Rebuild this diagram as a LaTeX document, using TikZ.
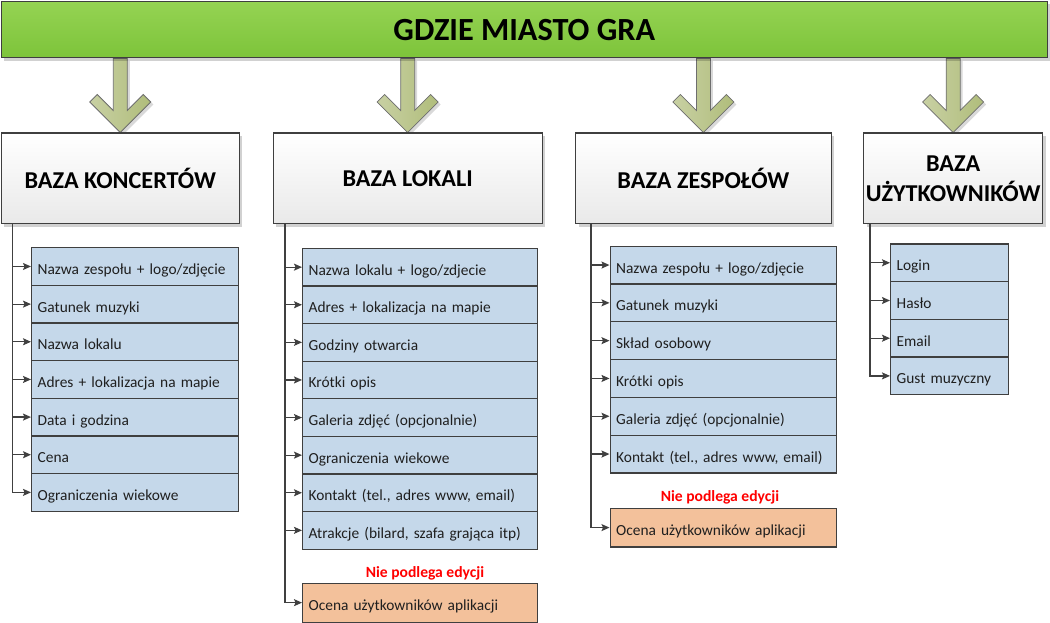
\documentclass[tikz,border=0pt]{standalone}
\usepackage{fontspec}
\setmainfont{Carlito}
\usetikzlibrary{calc,shadows,arrows.meta}
\pgfdeclarelayer{background}
\pgfsetlayers{background,main}
\definecolor{titlegreenT}{HTML}{95D353}
\definecolor{titlegreenB}{HTML}{7DC43A}
\definecolor{edge}{HTML}{3F3F3F}
\definecolor{itemblue}{HTML}{C5D8EA}
\definecolor{itemorange}{HTML}{F3C19B}
\definecolor{arrL}{HTML}{C8D0A3}
\definecolor{arrR}{HTML}{B0BD7B}
\definecolor{arredge}{HTML}{6E6E6E}
\definecolor{hdrB}{HTML}{E9E9E9}
\definecolor{conncol}{HTML}{404040}
\definecolor{redtxt}{HTML}{FF0000}
\tikzset{
  softshadow/.style={drop shadow={shadow xshift=3pt, shadow yshift=-3pt, fill=black, opacity=0.18}},
  titlebox/.style={draw=edge, line width=1.3pt, top color=titlegreenT, bottom color=titlegreenB,
    anchor=north west, minimum width=1046pt, minimum height=56.5pt, inner sep=0pt,
    font=\fontsize{32.3}{38}\selectfont\bfseries, softshadow},
  hdrbox/.style={draw=edge, line width=1.3pt, top color=white, bottom color=hdrB,
    anchor=north west, minimum height=90.5pt, inner sep=0pt, align=center,
    font=\fontsize{24.2}{30}\selectfont\bfseries, softshadow},
  itembox/.style={draw=edge, line width=1.3pt, fill=itemblue, anchor=north west,
    inner xsep=6pt, inner ysep=0pt, align=left, text height=16pt, text depth=0pt,
    font=\fontsize{15.4}{18}\selectfont, text=black!88},
  orangebox/.style={itembox, fill=itemorange},
  redlabel/.style={text=redtxt, font=\fontsize{15.6}{18}\selectfont\bfseries, inner sep=0pt},
  conn/.style={draw=conncol, line width=1.2pt, -{Stealth[length=8pt,width=7pt,inset=1.5pt]}},
  bigarrow/.style={draw=arredge, line width=0.8pt, left color=arrL, right color=arrR,
    drop shadow={shadow xshift=2.5pt, shadow yshift=-2.5pt, fill=black, opacity=0.15}},
}
\newcommand\downarrowto[2]{%
  \path[bigarrow] ($(#1.south -| #2.north)+(-7,0)$) -- ($(#2.north)+(-7,-22)$)
    -- ($(#2.north)+(-23,-38)$) -- ($(#2.north)+(-30.5,-30.5)$) -- (#2.north)
    -- ($(#2.north)+(30.5,-30.5)$) -- ($(#2.north)+(23,-38)$) -- ($(#2.north)+(7,-22)$)
    -- ($(#1.south -| #2.north)+(7,0)$) -- cycle;}
\begin{document}
\begin{tikzpicture}[x=1pt,y=-1pt]
\useasboundingbox (0,0) rectangle (1050,623);
% title
\node[titlebox] (title) at (0.65,0.65) {GDZIE MIASTO GRA};
% headers
\node[hdrbox, minimum width=238pt] (hk) at (0.65,132.5) {BAZA KONCERTÓW};
\node[hdrbox, minimum width=269pt] (hl) at (272.5,132.5) {BAZA LOKALI};
\node[hdrbox, minimum width=255.5pt] (hz) at (575,132.5) {BAZA ZESPOŁÓW};
\node[hdrbox, minimum width=179pt] (hu) at (863,132.5) {BAZA\\UŻYTKOWNIKÓW};
% big arrows
\begin{pgfonlayer}{background}
\downarrowto{title}{hk}
\downarrowto{title}{hl}
\downarrowto{title}{hz}
\downarrowto{title}{hu}
\end{pgfonlayer}
% column 1
\foreach \t [count=\i] in {Nazwa zespołu + logo/zdjęcie, Gatunek muzyki, Nazwa lokalu,
  Adres + lokalizacja na mapie, Data i godzina, Cena, Ograniczenia wiekowe}
  \node[itembox, text width=195pt, minimum height=37.65pt] (k\i) at (31,{247+37.65*(\i-1)}) {\t};
\coordinate (k0) at ([xshift=12pt]hk.south west);
\foreach \i in {1,...,7} \draw[conn] (k0) |- (k\i.west);
% column 2
\foreach \t [count=\i] in {Nazwa lokalu + logo/zdjecie, Adres + lokalizacja na mapie,
  Godziny otwarcia, Krótki opis, Galeria zdjęć (opcjonalnie), Ograniczenia wiekowe,
  {Kontakt (tel., adres www, email)}, {Atrakcje (bilard, szafa grająca itp)}}
  \node[itembox, text width=223pt, minimum height=37.6pt] (l\i) at (302,{247.7+37.6*(\i-1)}) {\t};
\node[orangebox, text width=223pt, minimum height=39pt] (l9) at (302,582.5) {Ocena użytkowników aplikacji};
\node[redlabel] (r2) at (425,573) {Nie podlega edycji};
\coordinate (l0) at ([xshift=12.5pt]hl.south west);
\foreach \i in {1,...,9} \draw[conn] (l0) |- (l\i.west);
% column 3
\foreach \t [count=\i] in {Nazwa zespołu + logo/zdjęcie, Gatunek muzyki, Skład osobowy,
  Krótki opis, Galeria zdjęć (opcjonalnie), {Kontakt (tel., adres www, email)}}
  \node[itembox, text width=214pt, minimum height=37.8pt] (z\i) at (609.5,{245.5+37.8*(\i-1)}) {\t};
\node[orangebox, text width=214pt, minimum height=38.5pt] (z7) at (609.5,507.7) {Ocena użytkowników aplikacji};
\node[redlabel] (r3) at (720,497) {Nie podlega edycji};
\coordinate (z0) at ([xshift=16pt]hz.south west);
\foreach \i in {1,...,7} \draw[conn] (z0) |- (z\i.west);
% column 4
\foreach \t [count=\i] in {Login, Hasło, Email, Gust muzyczny}
  \node[itembox, text width=106pt, minimum height=37.7pt] (u\i) at (890,{243.3+37.7*(\i-1)}) {\t};
\coordinate (u0) at ([xshift=7pt]hu.south west);
\foreach \i in {1,...,4} \draw[conn] (u0) |- (u\i.west);
\end{tikzpicture}
\end{document}
